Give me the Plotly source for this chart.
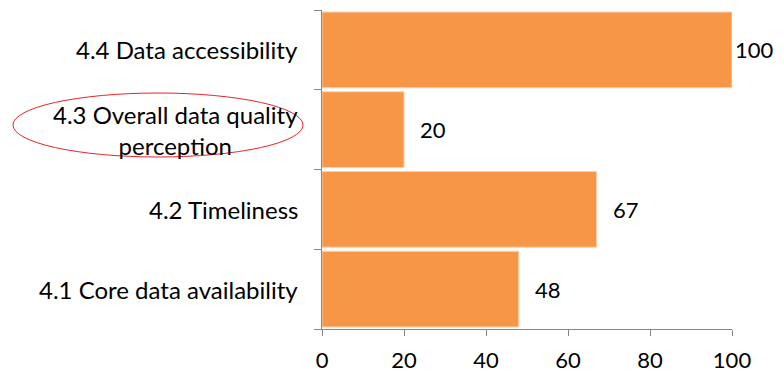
import plotly.graph_objects as go

# Category labels (bottom to top) and their scores
categories = [
    "4.1 Core data availability",
    "4.2 Timeliness",
    "4.3 Overall data quality<br>perception",
    "4.4 Data accessibility",
]
scores = [48, 67, 20, 100]
x_ticks = [0, 20, 40, 60, 80, 100]

BAR_COLOR = "#F79646"
AXIS_COLOR = "#868686"
FONT = "Lato"
LABEL_SIZE = 24
NUM_SIZE = 22

positions = list(range(len(categories)))

fig = go.Figure()
fig.add_trace(go.Bar(
    x=scores,
    y=positions,
    orientation="h",
    width=0.95,
    marker=dict(color=BAR_COLOR, line=dict(color="#FBD3B3", width=1)),
    hoverinfo="skip",
))

# Value labels next to each bar
for pos, val in zip(positions, scores):
    fig.add_annotation(
        x=val, y=pos, xref="x", yref="y",
        text=str(val), showarrow=False,
        xanchor="left", yanchor="middle",
        xshift=1 if val >= 100 else 14,
        font=dict(family=FONT, size=NUM_SIZE, color="#000000"),
    )

# Category labels, centred line by line and right-aligned to the axis
for pos, name in zip(positions, categories):
    fig.add_annotation(
        x=0, y=pos, xref="paper", yref="y",
        text=name, showarrow=False,
        xanchor="right", yanchor="middle", align="center",
        xshift=-22,
        font=dict(family=FONT, size=LABEL_SIZE, color="#000000"),
    )

# Highlight ring around the data quality label
fig.add_shape(
    type="circle", xref="paper", yref="paper",
    x0=-0.7537, x1=-0.0463, y0=0.5392, y1=0.7398,
    line=dict(color="#E8242A", width=1),
)

fig.update_xaxes(
    range=[0, 100],
    tickvals=x_ticks,
    ticktext=[str(v) for v in x_ticks],
    showgrid=False, zeroline=False,
    showline=True, linecolor=AXIS_COLOR, linewidth=1,
    ticks="outside", ticklen=6, tickcolor=AXIS_COLOR, tickwidth=1,
    tickfont=dict(family=FONT, size=NUM_SIZE, color="#000000"),
    ticklabelstandoff=6,
    automargin=False,
)
fig.update_yaxes(
    range=[-0.5, len(categories) - 0.5],
    tickvals=[p - 0.5 for p in range(len(categories) + 1)],
    showticklabels=False,
    showgrid=False, zeroline=False,
    showline=True, linecolor=AXIS_COLOR, linewidth=1,
    ticks="outside", ticklen=7, tickcolor=AXIS_COLOR, tickwidth=1,
    automargin=False,
)

fig.update_layout(
    width=784, height=375,
    margin=dict(l=322, r=52, t=10, b=46, autoexpand=False),
    plot_bgcolor="#FFFFFF", paper_bgcolor="#FFFFFF",
    showlegend=False,
    font=dict(family=FONT, size=LABEL_SIZE, color="#000000"),
)

fig.write_html("out.html")
